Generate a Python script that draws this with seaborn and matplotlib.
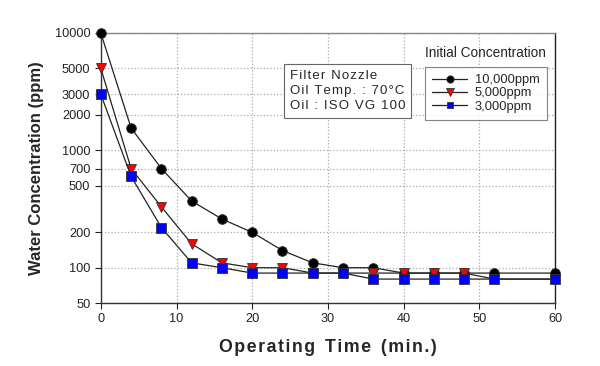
import numpy as np
import pandas as pd
import matplotlib
matplotlib.use("Agg")
import matplotlib.pyplot as plt
from matplotlib.ticker import FixedLocator, FixedFormatter, NullLocator
import seaborn as sns

time_min = [0, 4, 8, 12, 16, 20, 24, 28, 32, 36, 40, 44, 48, 52, 60]
c10000 = [10000, 1550, 700, 370, 260, 200, 140, 110, 100, 100, 90, 90, 90, 90, 90]
c5000 = [5000, 700, 330, 160, 110, 100, 100, 90, 90, 90, 90, 90, 90, 80, 80]
c3000 = [3000, 600, 220, 110, 100, 90, 90, 90, 90, 80, 80, 80, 80, 80, 80]
series_names = ["10,000ppm", "5,000ppm", "3,000ppm"]
y_ticks = [50, 100, 200, 500, 700, 1000, 2000, 3000, 5000, 10000]

sns.set_style("white")
plt.rcParams['font.family'] = ['Liberation Sans', 'DejaVu Sans']

fig = plt.figure(figsize=(6, 3.66), dpi=100)
ax = fig.add_axes([0.168, 0.172, 0.757, 0.738])

styles = [("o", "black", 7), ("v", "red", 7), ("s", "blue", 6.5)]
handles = []
for name, vals, (mk, col, ms) in zip(series_names, [c10000, c5000, c3000], styles):
    df = pd.DataFrame({"t": time_min, "c": vals})
    sns.lineplot(data=df, x="t", y="c", ax=ax, color="#222222", lw=0.9,
                 marker=mk, markersize=ms, markerfacecolor=col,
                 markeredgecolor="#333333", markeredgewidth=0.6, zorder=3)
    ax.lines[-1].set_clip_on(False)
    handles.append(ax.lines[-1])

ax.set_yscale("log")
ax.set_xlim(0, 60)
ax.set_ylim(50, 10000)
ax.yaxis.set_major_locator(FixedLocator(y_ticks))
ax.yaxis.set_major_formatter(FixedFormatter([str(v) for v in y_ticks]))
ax.yaxis.set_minor_locator(NullLocator())
ax.set_xticks([0, 10, 20, 30, 40, 50, 60])

ax.grid(True, which="major", color="#aaaaaa", linestyle=":", linewidth=0.9)
for s in ax.spines.values():
    s.set_color("#888888")
    s.set_linewidth(1.0)
ax.spines["left"].set_color("#333333")
ax.spines["bottom"].set_color("#333333")
ax.spines["right"].set_color("#222222")
ax.tick_params(axis="both", direction="out", length=4, width=0.8, colors="#222222",
               labelsize=9.2, left=True, bottom=True)
for lab in ax.get_xticklabels() + ax.get_yticklabels():
    lab.set_color("#222222")

hs = "\u200a"
xlab = "  ".join(hs.join(w) for w in ["Operating", "Time", "(min.)"])
ax.set_xlabel(xlab, fontsize=12.8, fontweight="bold", labelpad=10)
ax.set_ylabel("Water Concentration (ppm)", fontsize=12, fontweight="bold", labelpad=8)

box_txt = "\n".join(hs.join(line) for line in
                    ["Filter Nozzle", "Oil Temp. : 70°C", "Oil : ISO VG 100"])
ax.text(0.416, 0.862, box_txt,
        transform=ax.transAxes, va="top", ha="left", fontsize=9.5, linespacing=1.3,
        bbox=dict(boxstyle="square,pad=0.45", fc="white", ec="#666666", lw=0.8))

ax.text(0.846, 0.925, "Initial Concentration", transform=ax.transAxes,
        ha="center", va="center", fontsize=9.8)
leg = ax.legend(handles, series_names, loc="upper left",
                bbox_to_anchor=(0.714, 0.874), frameon=True, fancybox=False,
                fontsize=9.3, handlelength=2.7, labelspacing=0.1, markerscale=0.75,
                borderpad=0.55, handletextpad=0.6, borderaxespad=0)
leg.get_frame().set_edgecolor("#666666")
leg.get_frame().set_linewidth(0.8)

fig.savefig("out.png", dpi=100)
